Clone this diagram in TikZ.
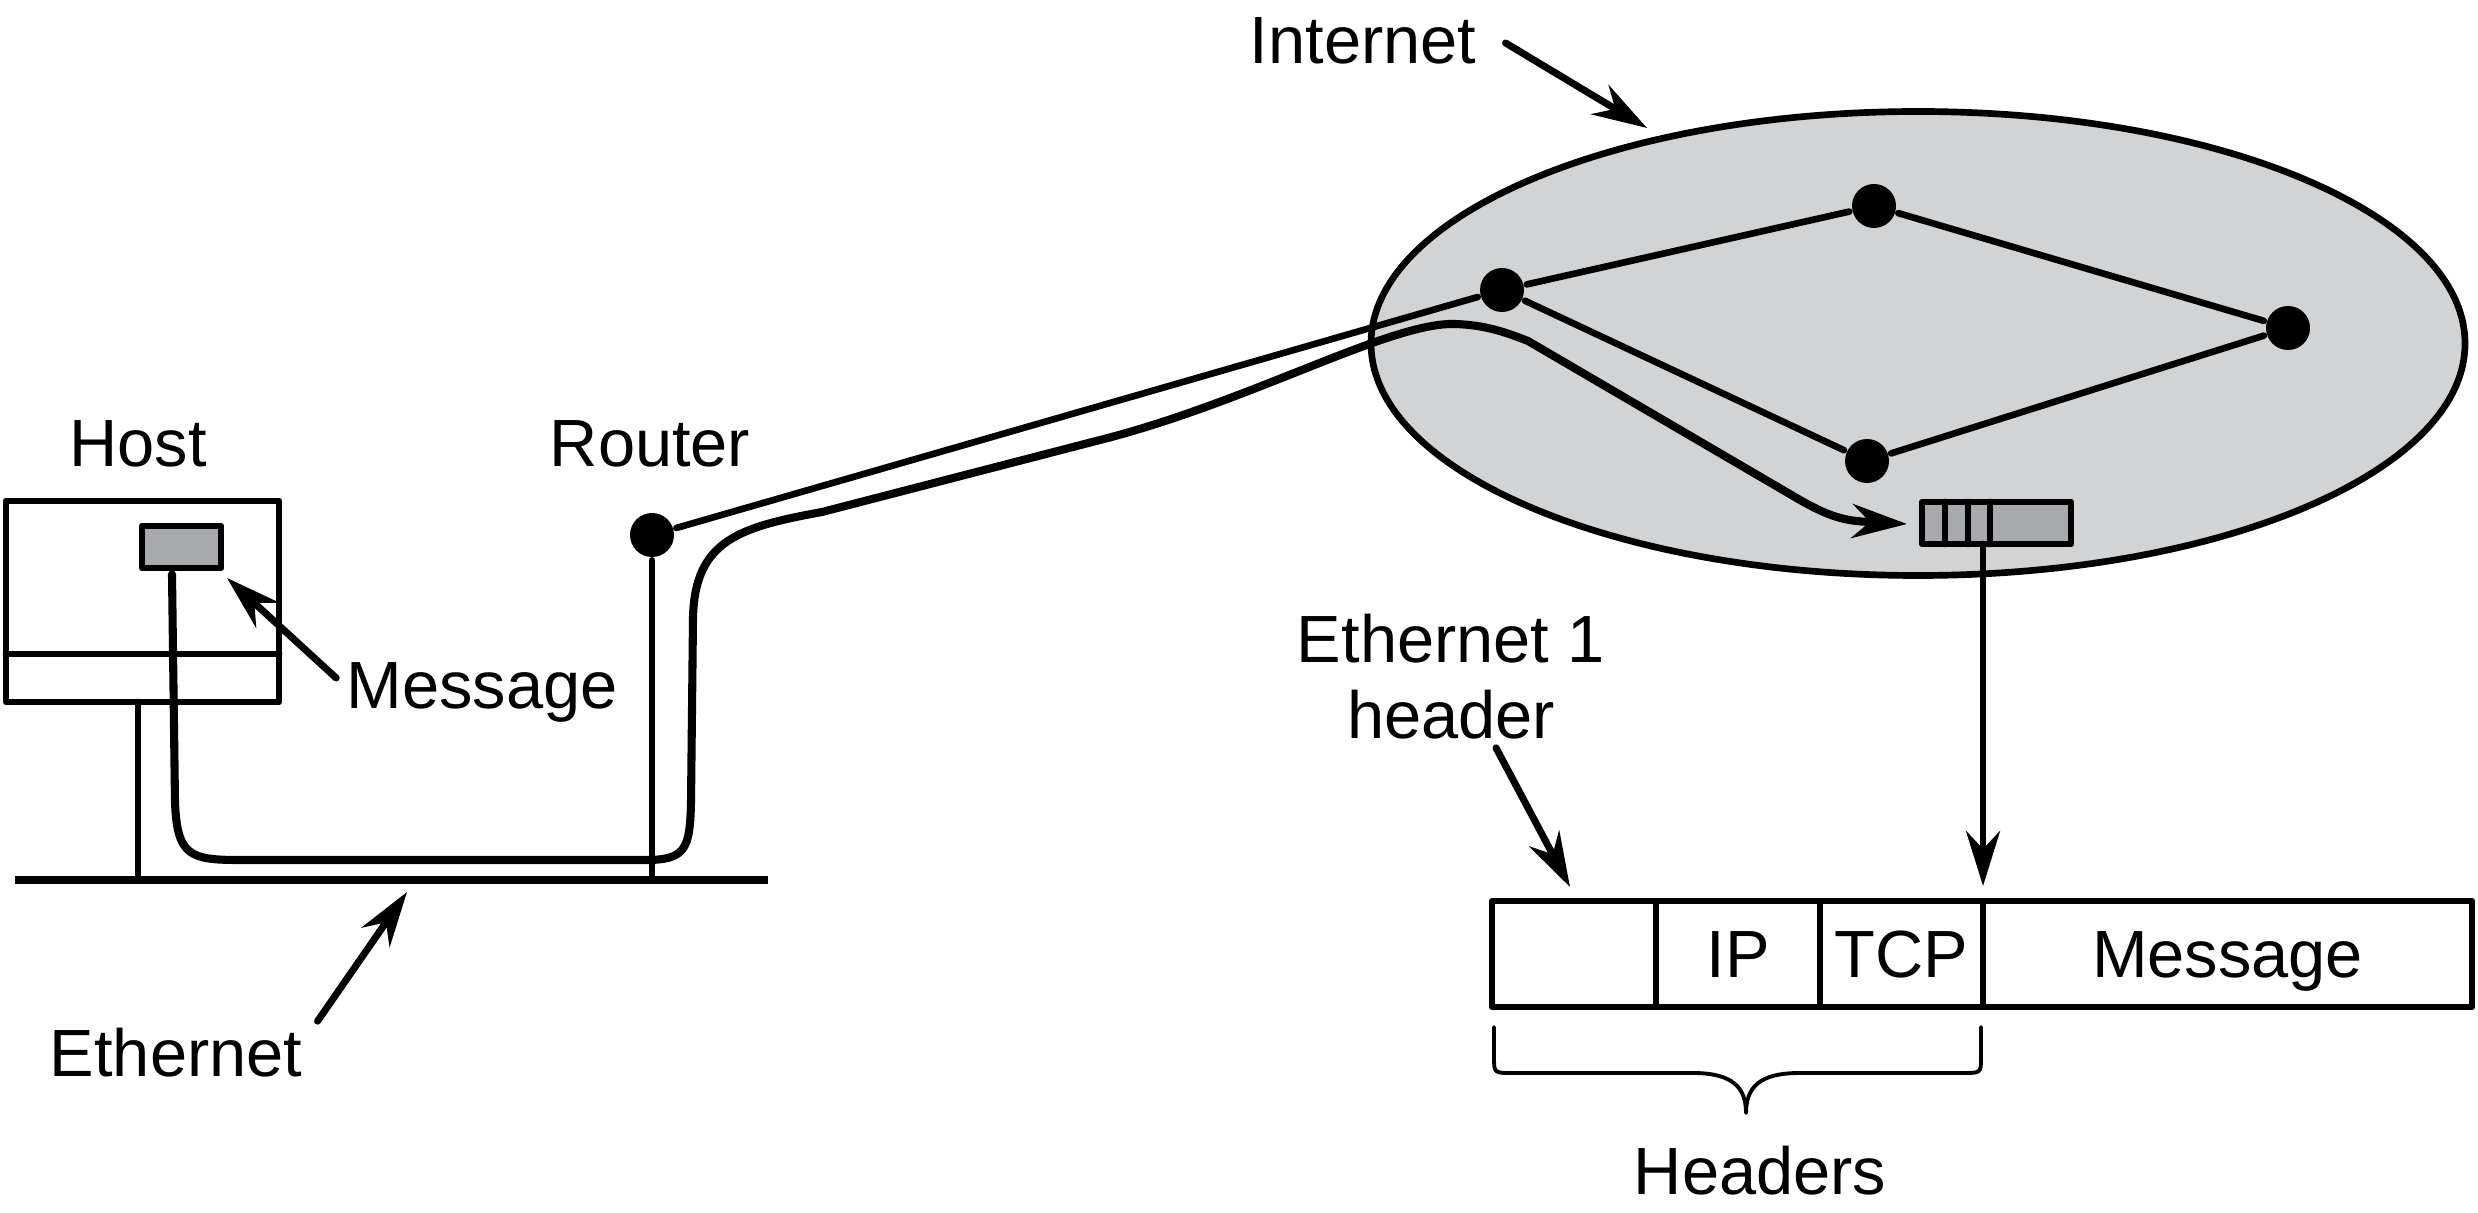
\documentclass[tikz,border=0pt]{standalone}
\usepackage{fontspec}
\setmainfont{Liberation Sans}
\usepackage{tikz}
\usetikzlibrary{arrows.meta,calc,positioning,shapes.geometric}
\definecolor{cloudgray}{RGB}{209,211,212}
\definecolor{msggray}{RGB}{167,169,172}
\tikzset{
	lbl/.style={font=\fontsize{19}{21.6}\selectfont, inner sep=0pt, align=center},
	dot/.style={circle, fill=black, inner sep=0pt, minimum size=0.44cm},
	cell/.style={draw, line width=1.9pt, minimum height=1.06cm, inner sep=0pt, outer sep=0pt, text height=13.6pt, text depth=0pt, font=\fontsize{19}{21.6}\selectfont},
	ptr/.style={->, line width=2pt},
}
\begin{document}
\begin{tikzpicture}[line cap=round,line join=round,line width=1.9pt,>={Stealth[length=5.5mm,width=3.4mm,inset=1.8mm]},x=1.0cm,y=1.0cm]
	\useasboundingbox (0,0) rectangle (24.78,12.12);
	% the internet
	\node[ellipse, draw, fill=cloudgray, minimum width=10.94cm, minimum height=4.64cm, inner sep=0pt] (inet) at (19.18,8.685) {};
	\node[dot] (n1) at (15.02,9.22) {};
	\node[dot] (n2) at (18.74,10.06) {};
	\node[dot] (n3) at (22.88,8.84) {};
	\node[dot] (n4) at (18.67,7.51) {};
	\draw (n1) -- (n2) -- (n3) -- (n4) -- (n1);
	\node[draw, fill=msggray, minimum width=1.49cm, minimum height=0.42cm, inner sep=0pt, outer sep=0pt] (pkt) at (19.965,6.89) {};
	\foreach \dx in {0.23,0.46,0.68}
		\draw ($(pkt.south west)+(\dx,0)$) -- ($(pkt.north west)+(\dx,0)$);
	\node[lbl] (inetlbl) at (13.63,11.71) {Internet};
	\coordinate (inettip) at (16.47,10.84);
	\draw[ptr] ($(inetlbl.east)+(0.26,-0.02)$) -- (inettip);
	% host, ethernet and router
	\node[draw, minimum width=2.73cm, minimum height=2.01cm, inner sep=0pt, outer sep=0pt] (host) at (1.425,6.105) {};
	\draw ($(host.south west)+(0,0.48)$) -- ($(host.south east)+(0,0.48)$);
	\node[draw, fill=msggray, minimum width=0.79cm, minimum height=0.42cm, inner sep=0pt] (hmsg) at (1.815,6.65) {};
	\node[lbl] (hostlbl) at (1.38,7.68) {Host};
	\coordinate (ethL) at (0.15,3.32);
	\coordinate (ethR) at (7.68,3.32);
	\draw[line width=2.1pt, line cap=butt] (ethL) -- (ethR);
	\coordinate (hostleg) at (1.38,3.32);
	\draw (host.south -| hostleg) -- (hostleg);
	\node[dot] (router) at (6.52,6.77) {};
	\coordinate (rleg) at (6.52,3.32);
	\draw (router) -- (rleg);
	\draw (router) -- (n1);
	\node[lbl] (routerlbl) at (6.50,7.68) {Router};
	\node[lbl] (msglbl) at (4.82,5.20) {Message};
	\coordinate (msgtip) at (2.27,6.34);
	\draw[ptr] ($(msglbl.west)+(-0.07,0.14)$) -- (msgtip);
	\node[lbl] (ethlbl) at (1.76,1.59) {Ethernet};
	\coordinate (ethtip) at (4.07,3.20);
	\draw[ptr] ($(ethlbl.north east)+(0.12,0.04)$) -- (ethtip);
	% path of the message
	\draw[->, line width=2.3pt] ($(hmsg.south)+(-0.095,-0.03)$) -- (1.75,4.10) .. controls (1.77,3.56) and (1.90,3.52) .. (2.40,3.52) -- (6.45,3.52) .. controls (6.85,3.52) and (6.90,3.62) .. (6.91,4.10) -- (6.93,5.95) .. controls (6.95,6.72) and (7.40,6.85) .. (8.22,7.00) -- (11.00,7.72) .. controls (12.50,8.10) and (13.90,8.90) .. (14.55,8.88) .. controls (14.85,8.87) and (15.05,8.80) .. (15.28,8.71) -- (18.00,7.12) .. controls (18.30,6.95) and (18.45,6.91) .. (18.70,6.90) -- ($(pkt.west)+(-0.15,-0.01)$);
	% packet with headers
	\node[cell, minimum width=1.64cm] (eth1) at (15.74,2.58) {};
	\node[cell, minimum width=1.64cm, right=0pt of eth1] (ip) {IP};
	\node[cell, minimum width=1.63cm, right=0pt of ip] (tcp) {TCP};
	\node[cell, minimum width=4.89cm, right=0pt of tcp] (msg) {Message};
	\draw[ptr, line width=1.9pt] (pkt.south -| tcp.east) -- ($(tcp.north east)+(0,0.15)$);
	\node[lbl] (eth1lbl) at (14.51,5.35) {Ethernet 1\\header};
	\draw[ptr] ($(eth1lbl.south)+(0.45,-0.05)$) -- ($(eth1.north)+(-0.04,0.14)$);
	\draw[line width=1.1pt] (14.94,1.85) -- (14.94,1.55) .. controls (14.94,1.39) .. (15.12,1.39) -- (16.93,1.39) .. controls (17.32,1.39) and (17.46,1.25) .. (17.46,0.99) .. controls (17.46,1.25) and (17.60,1.39) .. (17.99,1.39) -- (19.63,1.39) .. controls (19.81,1.39) .. (19.81,1.55) -- (19.81,1.85);
	\node[lbl] (hdrslbl) at (17.60,0.41) {Headers};
\end{tikzpicture}
\end{document}
